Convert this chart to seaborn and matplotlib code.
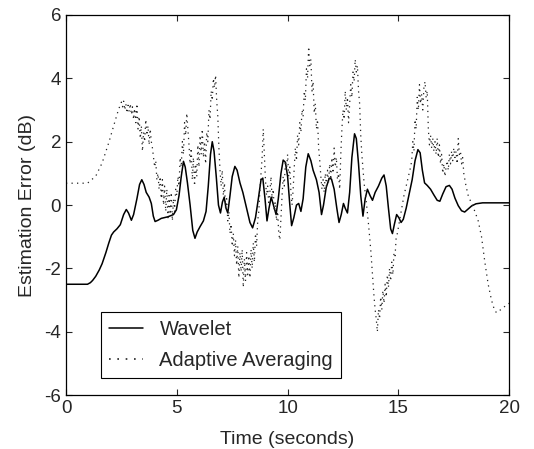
import numpy as np
import pandas as pd
import seaborn as sns
import matplotlib
matplotlib.use("Agg")
import matplotlib.pyplot as plt

# 웨이블릿 추정 오차 (실선)
wavelet_t = [0, 0.97, 1.1, 1.2, 1.34, 1.5, 1.63, 1.8, 1.93, 2.05, 2.15, 2.3, 2.45, 2.6, 2.72,
             2.82, 2.95, 3.05, 3.2, 3.32, 3.42, 3.52, 3.62, 3.75, 3.85, 3.94, 4.02, 4.15,
             4.3, 4.6, 4.85, 4.98, 5.1, 5.2, 5.3, 5.38, 5.48, 5.6, 5.72, 5.82, 5.92, 6.05,
             6.2, 6.32, 6.42, 6.52, 6.6, 6.68, 6.78, 6.88, 6.97, 7.06, 7.14, 7.22, 7.3,
             7.4, 7.5, 7.62, 7.72, 7.85, 7.98, 8.15, 8.3, 8.42, 8.55, 8.68, 8.8, 8.88,
             8.98, 9.07, 9.16, 9.26, 9.36, 9.48, 9.58, 9.7, 9.8, 9.9, 10.0, 10.1, 10.18,
             10.28, 10.4, 10.5, 10.6, 10.7, 10.82, 10.93, 11.05, 11.15, 11.3, 11.42,
             11.53, 11.62, 11.74, 11.88, 11.98, 12.1, 12.22, 12.32, 12.42, 12.52, 12.6,
             12.7, 12.8, 12.9, 13.02, 13.1, 13.2, 13.3, 13.4, 13.5, 13.6, 13.72, 13.83,
             13.95, 14.1, 14.25, 14.35, 14.45, 14.55, 14.65, 14.73, 14.82, 14.92, 15.02,
             15.12, 15.22, 15.35, 15.5, 15.62, 15.75, 15.88, 15.98, 16.08, 16.18, 16.3,
             16.45, 16.6, 16.75, 16.87, 17.0, 17.15, 17.3, 17.42, 17.55, 17.7, 17.85,
             17.99, 18.15, 18.3, 18.5, 18.8, 20.0]
wavelet_db = [-2.5, -2.5, -2.45, -2.38, -2.25, -2.05, -1.85, -1.5, -1.2, -0.95, -0.85, -0.75,
              -0.62, -0.3, -0.14, -0.25, -0.48, -0.3, 0.2, 0.65, 0.8, 0.65, 0.4, 0.25, 0.05,
              -0.35, -0.52, -0.48, -0.42, -0.37, -0.3, -0.15, 0.3, 0.9, 1.38, 1.2, 0.7, 0.0,
              -0.8, -1.05, -0.85, -0.68, -0.5, -0.2, 0.6, 1.6, 2.0, 1.7, 0.9, 0.0, -0.25,
              0.1, 0.25, -0.1, -0.25, 0.3, 0.9, 1.22, 1.1, 0.7, 0.4, -0.1, -0.55, -0.72,
              -0.4, 0.2, 0.8, 0.85, 0.2, -0.5, -0.1, 0.25, 0.0, -0.3, 0.2, 1.0, 1.42, 1.35,
              0.9, 0.0, -0.65, -0.4, 0.0, 0.05, -0.2, 0.2, 1.2, 1.62, 1.4, 1.1, 0.8, 0.4,
              -0.3, 0.0, 0.55, 0.85, 0.82, 0.5, -0.1, -0.55, -0.3, 0.05, -0.1, -0.25, 0.4,
              1.5, 2.25, 2.1, 1.3, 0.3, -0.35, 0.2, 0.5, 0.3, 0.15, 0.4, 0.6, 0.85, 0.95,
              0.6, -0.1, -0.75, -0.9, -0.6, -0.3, -0.4, -0.55, -0.45, -0.1, 0.4, 0.8, 1.4,
              1.75, 1.65, 1.1, 0.7, 0.62, 0.5, 0.32, 0.15, 0.12, 0.35, 0.58, 0.62, 0.5,
              0.22, -0.02, -0.18, -0.22, -0.12, -0.03, 0.04, 0.07, 0.07]

# 적응 평균 추정 오차 (점선)
adaptive_t = [0, 0.97, 1.34, 1.63, 1.93, 2.15, 2.38,
              2.45, 2.5, 2.55, 2.6, 2.65, 2.7, 2.75, 2.8, 2.85, 2.9, 2.95, 3.0, 3.05, 3.1,
              3.15, 3.2, 3.25, 3.3, 3.35, 3.4, 3.45, 3.5, 3.55, 3.6, 3.65, 3.7, 3.75, 3.8,
              3.85, 3.9,
              3.95, 4.0, 4.05, 4.1, 4.15, 4.2, 4.25, 4.3, 4.35, 4.4, 4.45, 4.5, 4.55, 4.6,
              4.65, 4.7, 4.75, 4.8, 4.85, 4.9, 4.95,
              5.0, 5.05, 5.1, 5.15, 5.2, 5.25, 5.3, 5.35, 5.4, 5.45, 5.5, 5.55, 5.6, 5.65,
              5.7, 5.75, 5.8, 5.85, 5.9, 5.95, 6.0, 6.05, 6.1, 6.15, 6.2, 6.25, 6.3, 6.35,
              6.4, 6.45, 6.5, 6.55, 6.6, 6.65, 6.7, 6.75, 6.8, 6.85, 6.9, 6.95,
              7.0, 7.05, 7.1, 7.15, 7.2, 7.25, 7.3, 7.35, 7.4,
              7.45, 7.5, 7.55, 7.6, 7.65, 7.7, 7.75, 7.8, 7.85, 7.9, 7.95, 8.0, 8.05, 8.1,
              8.15, 8.2, 8.25, 8.3, 8.35, 8.4, 8.45, 8.5, 8.55, 8.6, 8.65, 8.7,
              8.75, 8.8, 8.85, 8.9, 8.95, 9.0, 9.05, 9.1, 9.15, 9.2, 9.25, 9.3, 9.35, 9.4,
              9.45, 9.5, 9.55, 9.6, 9.65, 9.7, 9.75, 9.8, 9.85, 9.9, 9.95, 10.0, 10.05,
              10.1, 10.15, 10.2, 10.25,
              10.3, 10.35, 10.4, 10.45, 10.5, 10.55, 10.6, 10.65, 10.7, 10.75, 10.8, 10.85,
              10.9, 10.95, 11.0, 11.05, 11.1, 11.15, 11.2, 11.25, 11.3, 11.35, 11.4, 11.45,
              11.5,
              11.55, 11.6, 11.65, 11.7, 11.75, 11.8, 11.85, 11.9, 11.95, 12.0, 12.05, 12.1,
              12.15, 12.2, 12.25, 12.3, 12.35,
              12.4, 12.45, 12.5, 12.55, 12.6, 12.65, 12.7, 12.75, 12.8, 12.85, 12.9, 12.95,
              13.0, 13.05, 13.1, 13.15, 13.2, 13.25, 13.3,
              13.35, 13.45, 13.55, 13.65, 13.75, 13.85,
              13.9, 13.95, 14.0, 14.05, 14.1, 14.15, 14.2, 14.25, 14.3, 14.35, 14.4, 14.45,
              14.5, 14.55, 14.6, 14.65, 14.7, 14.75, 14.8, 14.85, 14.9, 14.95,
              15.05, 15.15, 15.25, 15.35, 15.45, 15.55,
              15.6, 15.65, 15.7, 15.75, 15.8, 15.85, 15.9, 15.95, 16.0, 16.05, 16.1, 16.15,
              16.2, 16.25, 16.3, 16.35, 16.4, 16.45, 16.5, 16.55, 16.6, 16.65, 16.7, 16.75,
              16.8, 16.85, 16.9, 16.95, 17.0, 17.05, 17.1, 17.15, 17.2, 17.25, 17.3, 17.35,
              17.4, 17.45, 17.5, 17.55, 17.6, 17.65, 17.7, 17.75, 17.8, 17.85, 17.9, 17.95,
              18.05, 18.15, 18.3, 18.45, 18.6, 18.75, 18.9, 19.05, 19.2, 19.35, 19.45,
              19.7, 20.0]
adaptive_db = [0.69, 0.69, 0.91, 1.33, 1.97, 2.5, 3.04,
               3.15, 3.25, 3.1, 3.28, 3.0, 3.2, 2.9, 3.15, 2.95, 3.2, 2.85, 3.1, 2.7, 3.05,
               2.6, 3.2, 2.4, 2.8, 2.1, 2.5, 1.7, 2.3, 2.0, 2.7, 2.2, 2.5, 1.9, 2.4, 2.0, 1.8,
               1.5, 1.2, 1.4, 0.8, 1.0, 0.5, 0.9, 0.2, 0.8, 0.0, 0.6, -0.2, 0.5, -0.4, 0.3,
               -0.3, 0.4, -0.5, 0.2, -0.2, 0.5,
               0.3, 0.9, 0.6, 1.5, 1.2, 2.0, 1.6, 2.6, 2.2, 2.9, 2.4, 1.9, 1.3, 1.8, 0.8,
               1.5, 0.6, 1.3, 0.9, 1.9, 1.2, 2.2, 1.6, 2.4, 1.5, 2.0, 1.3, 2.3, 2.0, 3.0,
               2.7, 3.6, 3.3, 4.0, 3.7, 4.1, 3.3, 2.8, 1.8, 1.1,
               0.6, 1.1, 0.3, 0.7, -0.1, 0.2, -0.5, -0.2, -0.9,
               -0.6, -1.3, -0.9, -1.6, -1.1, -1.9, -1.3, -2.3, -1.5, -2.1, -1.4, -2.6, -1.7,
               -2.4, -1.5, -2.2, -1.6, -2.3, -1.4, -2.0, -1.2, -1.8, -0.9, -1.3, -0.5, -0.2,
               0.5, 1.0, 1.5, 2.4, 1.6, 0.8, 0.3, 0.6, 0.0, 0.4, 0.9, 0.2, 0.5, -0.2, 0.1,
               -0.5, -0.2, -0.9, -1.1, -0.4, 0.3, 0.9, 0.6, 1.4, 1.1, 1.6, 0.9, 1.2, 0.4,
               0.0, 0.5,
               1.2, 1.8, 1.4, 2.2, 1.9, 2.6, 2.3, 3.0, 2.8, 3.6, 3.3, 4.3, 4.0, 5.0, 4.4,
               4.6, 3.6, 3.9, 2.9, 3.2, 2.4, 2.7, 1.8, 1.4, 0.9,
               0.5, 0.8, 0.4, 1.0, 0.6, 1.1, 0.7, 1.3, 0.8, 1.5, 1.0, 1.8, 1.2, 1.5, 0.8,
               1.0, 0.5,
               1.6, 2.4, 3.0, 2.7, 3.6, 3.0, 3.4, 2.6, 3.2, 3.8, 3.4, 4.2, 3.9, 4.6, 4.2,
               4.4, 3.6, 3.2, 2.2,
               1.6, 0.7, 0.1, -0.6, -1.4, -2.4,
               -2.9, -3.3, -3.6, -4.0, -3.3, -3.6, -2.9, -3.3, -2.7, -3.1, -2.5, -2.9, -2.2,
               -2.6, -2.0, -2.4, -1.8, -2.2, -1.5, -1.6, -1.0, -0.9,
               -0.5, -0.1, 0.3, 0.6, 0.9, 1.2,
               1.4, 2.0, 1.7, 2.7, 2.4, 3.4, 3.0, 3.8, 3.2, 3.5, 3.0, 3.7, 3.9, 3.4, 3.6,
               2.4, 1.9, 2.2, 1.8, 2.1, 1.7, 2.0, 1.6, 2.1, 1.5, 1.9, 1.3, 1.6, 1.0, 1.3,
               0.9, 1.2, 1.4, 1.1, 1.6, 1.3, 1.7, 1.4, 1.8, 1.5, 1.7, 1.3, 2.1, 1.6, 1.7,
               1.3, 1.5, 1.0,
               0.6, 0.3, 0.05, -0.2, -0.5, -1.0, -1.8, -2.5, -3.0, -3.35, -3.4, -3.25, -3.1]

x_ticks = [0, 5, 10, 15, 20]
y_ticks = [-6, -4, -2, 0, 2, 4, 6]

df_wavelet = pd.DataFrame({"t": wavelet_t, "err": wavelet_db})
df_adaptive = pd.DataFrame({"t": adaptive_t, "err": adaptive_db})

sns.set_style("ticks")
plt.rcParams["font.family"] = ["Liberation Sans", "DejaVu Sans"]
plt.rcParams["axes.unicode_minus"] = False

fig = plt.figure(figsize=(5.34, 4.49), dpi=100)
ax = fig.add_axes([0.1236, 0.12, 0.83, 0.8466])

sns.lineplot(data=df_wavelet, x="t", y="err", color="black", linewidth=1.1,
             label="Wavelet", ax=ax)
sns.lineplot(data=df_adaptive, x="t", y="err", color="#222222", linewidth=0.9,
             label="Adaptive Averaging", ax=ax)
ax.lines[1].set_dashes([1, 3.4])

ax.set_xlim(0, 20)
ax.set_ylim(-6, 6)
ax.set_xticks(x_ticks)
ax.set_yticks(y_ticks)
ax.tick_params(direction="in", top=True, right=True, labelsize=13.5, length=4, width=0.8)
for s in ax.spines.values():
    s.set_visible(True)
    s.set_linewidth(0.9)
    s.set_color("black")

ax.set_xlabel("Time (seconds)", fontsize=14, labelpad=10)
ax.set_ylabel("Estimation Error (dB)", fontsize=14, labelpad=6)

leg = ax.legend(loc="lower left", bbox_to_anchor=(0.079, 0.045), borderaxespad=0,
                fontsize=14.5, fancybox=False, edgecolor="black", framealpha=1,
                handlelength=1.7, handletextpad=0.8, labelspacing=0.6)
leg.get_frame().set_linewidth(0.8)
leg.get_lines()[1].set_linewidth(1.2)
leg.get_lines()[1].set_dashes([1, 4])

fig.savefig("out.png", dpi=100)
